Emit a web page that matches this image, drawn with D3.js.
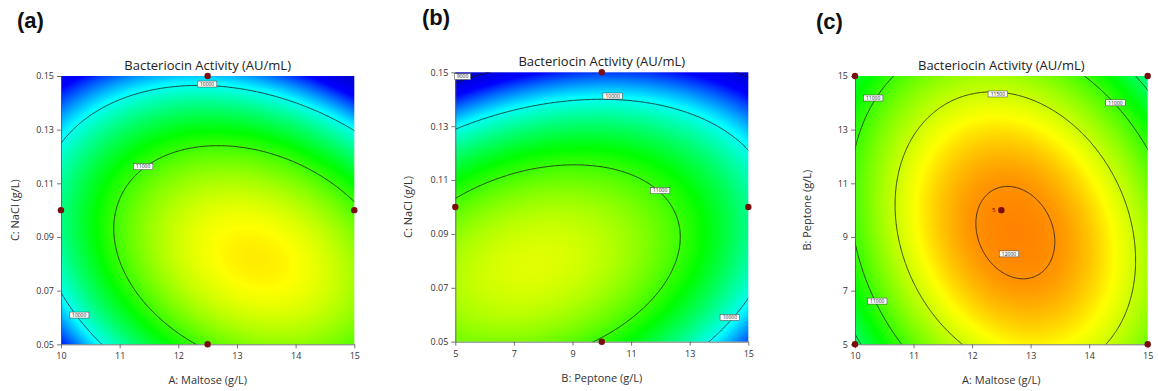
<!DOCTYPE html>
<html><head><meta charset="utf-8">
<script src="https://cdn.jsdelivr.net/npm/d3@7"></script>
<style>body{margin:0;background:#fff;} svg{display:block;font-family:"Open Sans",sans-serif;}</style>
</head><body>
<svg id="chart" width="1158" height="391"></svg>
<script>
// ---- chart data ----
const titleText = "Bacteriocin Activity (AU/mL)";
const panelTags = ["(a)","(b)","(c)"];
const xTitles = ["A: Maltose (g/L)","B: Peptone (g/L)","A: Maltose (g/L)"];
const yTitles = ["C: NaCl (g/L)","C: NaCl (g/L)","B: Peptone (g/L)"];
const xDomainA=[10,15], yDomainA=[0.05,0.15];
const xDomainB=[5,15], yDomainB=[0.05,0.15];
const xDomainC=[10,15], yDomainC=[5,15];
const xTicksA=[10,11,12,13,14,15], yTicksA=[0.05,0.07,0.09,0.11,0.13,0.15];
const xTicksB=[5,7,9,11,13,15], yTicksB=[0.05,0.07,0.09,0.11,0.13,0.15];
const xTicksC=[10,11,12,13,14,15], yTicksC=[5,7,9,11,13,15];
// response-surface coefficients (coded units -1..1): [b0, x, y, x^2, y^2, x*y]
const coefA=[11561.9, 366.2, -637.7, -851.8, -1124.3, -509.0];
const coefB=[11325.5, -379.4, -755.9, -623.4, -1127.2, 468.1];
const coefC=[12041.9, 120.4, -152.0, -863.3, -529.7, -266.4];
const levelsA=[10000,11000], levelsB=[9000,10000,11000], levelsC=[10500,11000,11500,12000];
const designA=[[12.5,0.15],[10,0.10],[15,0.10],[12.5,0.05]];
const designB=[[10,0.15],[5,0.10],[15,0.10],[10,0.05]];
const designC=[[10,5],[10,15],[15,5],[15,15],[12.5,10]];
const labelsA=[[10000,12.49,0.147],[11000,11.40,0.1162],[10000,10.31,0.0609]];
const labelsB=[[9000,5.25,0.1484],[10000,10.37,0.1412],[11000,11.99,0.1061],[10000,14.37,0.059]];
const labelsC=[[11000,10.31,14.18],[11500,12.44,14.33],[11000,14.45,14.0],[12000,12.63,8.37],[11000,10.38,6.61]];
const centerCount=["5"];
const colorValues=[8600,9300,9950,10800,11680,11980,12600];

// ---- styles / layout ----
const colorRange=["#0000b4","#0000ff","#00ffff","#00ff00","#ffff00","#ff9600","#ff0000"];
const color=d3.scaleLinear().domain(colorValues).range(colorRange).clamp(true);
const layout=[{l:61,r:354.3,t:76,b:344.3,tagX:17,tagY:28,yTitleX:15},
              {l:455.3,r:748.3,t:72.3,b:341.7,tagX:422,tagY:25,yTitleX:408},
              {l:855,r:1147.7,t:76,b:344.3,tagX:816,tagY:29,yTitleX:807}];
const panels=[
 {xd:xDomainA,yd:yDomainA,xt:xTicksA,yt:yTicksA,coef:coefA,levels:levelsA,design:designA,labels:labelsA,yfmt:d3.format(".2f"),xfmt:d3.format("d")},
 {xd:xDomainB,yd:yDomainB,xt:xTicksB,yt:yTicksB,coef:coefB,levels:levelsB,design:designB,labels:labelsB,yfmt:d3.format(".2f"),xfmt:d3.format("d")},
 {xd:xDomainC,yd:yDomainC,xt:xTicksC,yt:yTicksC,coef:coefC,levels:levelsC,design:designC,labels:labelsC,yfmt:d3.format("d"),xfmt:d3.format("d"),center:true}
];
const svg=d3.select("#chart");
function model(c,x,y){return c[0]+c[1]*x+c[2]*y+c[3]*x*x+c[4]*y*y+c[5]*x*y;}

panels.forEach((p,k)=>{
  const L=layout[k];
  const xs=d3.scaleLinear().domain(p.xd).range([L.l,L.r]);
  const ys=d3.scaleLinear().domain(p.yd).range([L.b,L.t]);
  const xc=(p.xd[0]+p.xd[1])/2, xh=(p.xd[1]-p.xd[0])/2;
  const yc=(p.yd[0]+p.yd[1])/2, yh=(p.yd[1]-p.yd[0])/2;
  const f=(x,y)=>model(p.coef,(x-xc)/xh,(y-yc)/yh);
  const g=svg.append("g");
  // heatmap
  const w=Math.round(L.r-L.l), h=Math.round(L.b-L.t);
  const cv=document.createElement("canvas"); cv.width=w; cv.height=h;
  const ctx=cv.getContext("2d"); const img=ctx.createImageData(w,h);
  for(let j=0;j<h;j++)for(let i=0;i<w;i++){
    const v=f(xs.invert(L.l+(i+0.5)*(L.r-L.l)/w), ys.invert(L.t+(j+0.5)*(L.b-L.t)/h));
    const c=d3.rgb(color(v)); const o=(j*w+i)*4;
    img.data[o]=c.r;img.data[o+1]=c.g;img.data[o+2]=c.b;img.data[o+3]=255;}
  ctx.putImageData(img,0,0);
  g.append("image").attr("href",cv.toDataURL()).attr("x",L.l).attr("y",L.t)
   .attr("width",L.r-L.l).attr("height",L.b-L.t).attr("preserveAspectRatio","none");
  // contours
  const clipId="clip"+k;
  svg.append("clipPath").attr("id",clipId).append("rect").attr("x",L.l).attr("y",L.t).attr("width",L.r-L.l).attr("height",L.b-L.t);
  const n=260, ext=1.06, step=2*ext/(n-1);
  const vals=new Array(n*n);
  for(let j=0;j<n;j++)for(let i=0;i<n;i++)vals[j*n+i]=model(p.coef,-ext+i*step,-ext+j*step);
  const cont=d3.contours().size([n,n]).thresholds(p.levels)(vals);
  const proj=d3.geoTransform({point:function(px,py){
    const cx=-ext+(px-0.5)*step, cy=-ext+(py-0.5)*step;
    this.stream.point(xs(xc+cx*xh), ys(yc+cy*yh));}});
  g.append("g").attr("clip-path",`url(#${clipId})`).selectAll("path").data(cont).join("path")
   .attr("d",d3.geoPath(proj)).attr("fill","none").attr("stroke","#1a1a1a").attr("stroke-width",0.8);
  // axes
  const ax=g.append("g").attr("transform",`translate(0,${L.b})`)
   .call(d3.axisBottom(xs).tickValues(p.xt).tickFormat(p.xfmt).tickSize(4).tickSizeOuter(0));
  const ay=g.append("g").attr("transform",`translate(${L.l},0)`)
   .call(d3.axisLeft(ys).tickValues(p.yt).tickFormat(p.yfmt).tickSize(4).tickSizeOuter(0));
  [ax,ay].forEach(a=>{a.selectAll("path,line").attr("stroke","#555").attr("stroke-width",0.8);
    a.selectAll("text").attr("fill","#333").style("font-size","9px").style("font-family","'Open Sans',sans-serif");});
  ax.selectAll("text").attr("dy","0.9em");
  // contour labels
  p.labels.forEach(([v,x,y])=>{
    const lg=g.append("g").attr("transform",`translate(${xs(x)},${ys(y)})`);
    const tw=String(v).length*3.3+3;
    lg.append("rect").attr("x",-tw/2).attr("y",-3).attr("width",tw).attr("height",6).attr("fill","#fff").attr("stroke","#3a3a3a").attr("stroke-width",0.5);
    lg.append("text").attr("text-anchor","middle").attr("y",1.8).style("font-size","5px").attr("fill","#222").text(v);
  });
  // design points
  g.selectAll("circle.dp").data(p.design).join("circle").attr("class","dp")
   .attr("cx",d=>xs(d[0])).attr("cy",d=>ys(d[1])).attr("r",3.2).attr("fill","#7a0d0d");
  if(p.center){const d=p.design[p.design.length-1];
    g.append("text").attr("x",xs(d[0])-6).attr("y",ys(d[1])+2).attr("text-anchor","end").style("font-size","6px").attr("fill","#5a0a0a").text(centerCount[0]);}
  // titles
  g.append("text").attr("x",(L.l+L.r)/2).attr("y",L.t-6).attr("text-anchor","middle").style("font-size","13px").attr("fill","#222").text(titleText);
  g.append("text").attr("x",(L.l+L.r)/2).attr("y",L.b+40).attr("text-anchor","middle").style("font-size","11px").attr("fill","#333").text(xTitles[k]);
  g.append("text").attr("transform",`translate(${L.yTitleX},${(L.t+L.b)/2}) rotate(-90)`).attr("text-anchor","middle").attr("dy","0.35em").style("font-size","11px").attr("fill","#333").text(yTitles[k]);
  g.append("text").attr("x",L.tagX).attr("y",L.tagY).style("font-family","'Liberation Sans',Arial,sans-serif").style("font-weight","bold").style("font-size","22px").attr("fill","#111").text(panelTags[k]);
});
</script></body></html>
